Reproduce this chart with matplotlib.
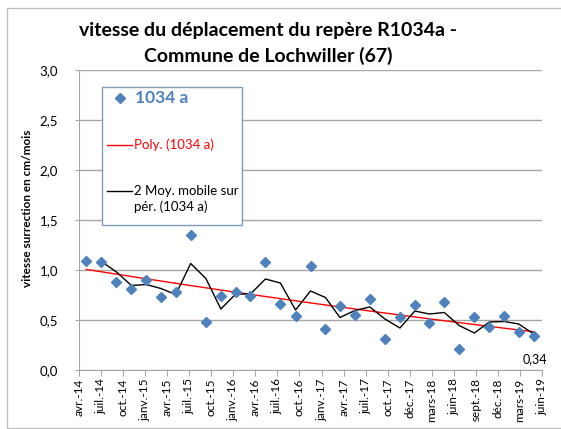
import numpy as np
import pandas as pd
import matplotlib
matplotlib.use("Agg")
import matplotlib.pyplot as plt
import matplotlib.dates as mdates
from matplotlib.lines import Line2D
from matplotlib.patches import Rectangle

plt.rcParams['font.family'] = ['Lato', 'DejaVu Sans']

# measurement dates (every 2 months) and speeds in cm/month
dates = pd.date_range('2014-05-20', periods=31, freq=pd.DateOffset(months=2))
vitesse = [1.09, 1.08, 0.88, 0.81, 0.90, 0.73, 0.78, 1.35, 0.48, 0.74,
           0.78, 0.74, 1.08, 0.66, 0.54, 1.04, 0.41, 0.64, 0.55, 0.71,
           0.31, 0.53, 0.65, 0.47, 0.68, 0.21, 0.53, 0.43, 0.54, 0.38, 0.34]

axis_start = pd.Timestamp('2014-04-20')
tick_step_days = 90
tick_labels = ['avr.-14', 'juil.-14', 'oct.-14', 'janv.-15', 'avr.-15', 'juil.-15',
               'oct.-15', 'janv.-16', 'avr.-16', 'juil.-16', 'oct.-16', 'janv.-17',
               'avr.-17', 'juil.-17', 'oct.-17', 'déc.-17', 'mars-18', 'juin-18',
               'sept.-18', 'déc.-18', 'mars-19', 'juin-19']

blue = '#4F81BD'
grid_col = '#A6A6A6'

s = pd.Series(vitesse, index=dates)
mov = s.rolling(2).mean()

# poly trend (order 2) like Excel
xd = mdates.date2num(dates)
coef = np.polyfit(xd, vitesse, 2)
xt = np.linspace(xd[0], xd[-1], 200)

fig = plt.figure(figsize=(5.61, 4.29), dpi=100)
ax = fig.add_axes([79 / 561, 1 - 370 / 429, 463 / 561, 300 / 429])

ax.plot(xt, np.polyval(coef, xt), color='red', lw=1, zorder=2)
ax.plot(mdates.date2num(mov.index), mov.values, color='black', lw=1, zorder=3)
ax.plot(xd, vitesse, 'D', color=blue, ms=5.5, ls='none', zorder=4)

ticks = [mdates.date2num(axis_start + pd.Timedelta(days=tick_step_days * k))
         for k in range(len(tick_labels))]
ax.set_xlim(ticks[0], ticks[-1])
ax.set_xticks(ticks)
ax.set_xticklabels(tick_labels, rotation=90, fontsize=8.5)

ax.set_ylim(0, 3.0)
yt = np.arange(0, 3.01, 0.5)
ax.set_yticks(yt)
ax.set_yticklabels([f'{v:.1f}'.replace('.', ',') for v in yt], fontsize=9.5)
ax.grid(axis='y', color=grid_col, lw=1)
ax.set_axisbelow(True)
for side in ['top', 'right']:
    ax.spines[side].set_visible(False)
for side in ['left', 'bottom']:
    ax.spines[side].set_color(grid_col)
ax.tick_params(axis='both', color=grid_col, length=4)
ax.tick_params(axis='x', pad=2)
ax.tick_params(axis='y', length=3, pad=12)

ax.set_ylabel('vitesse surrection en cm/mois', fontsize=8.5, fontweight='bold')
ax.yaxis.set_label_coords(-0.10, 0.54)

# value label on last point
ax.annotate(f'{vitesse[-1]:.2f}'.replace('.', ','), (xd[-1], vitesse[-1]),
            xytext=(1, -12), textcoords='offset points', ha='center', va='top',
            fontsize=9)

fig.suptitle('vitesse du déplacement du repère R1034a -\nCommune de Lochwiller (67)',
             x=268 / 561, y=1 - 22 / 429, fontsize=14, fontweight='bold',
             linespacing=1.55, va='top')

# legend box
def fx(px):
    return px / 561

def fy(py):
    return 1 - py / 429

fig.add_artist(Rectangle((fx(102), fy(225)), fx(242) - fx(102), fy(87) - fy(225),
                         transform=fig.transFigure, facecolor='white',
                         edgecolor='#7F9DB9', lw=1, zorder=5))
fig.add_artist(Line2D([fx(120)], [fy(98)], marker='D', color=blue, ms=5.5,
                      transform=fig.transFigure, zorder=6))
fig.text(fx(135), fy(98), '1034 a', color=blue, fontsize=12.5, fontweight='bold',
         va='center', zorder=6)
fig.add_artist(Line2D([fx(107), fx(132)], [fy(145), fy(145)], color='red', lw=1,
                      transform=fig.transFigure, zorder=6))
fig.text(fx(134), fy(145), 'Poly. (1034 a)', color='red', fontsize=9.5,
         va='center', zorder=6)
fig.add_artist(Line2D([fx(107), fx(132)], [fy(191), fy(191)], color='black', lw=1,
                      transform=fig.transFigure, zorder=6))
fig.text(fx(134), fy(199), '2 Moy. mobile sur\npér. (1034 a)', color='black',
         fontsize=9.5, va='center', linespacing=1.35, zorder=6)

# chart area border
fig.add_artist(Rectangle((fx(7), fy(428)), fx(570) - fx(7), fy(8) - fy(428),
                         transform=fig.transFigure, facecolor='none',
                         edgecolor='#BFBFBF', lw=1))

fig.savefig('out.png', dpi=100)
